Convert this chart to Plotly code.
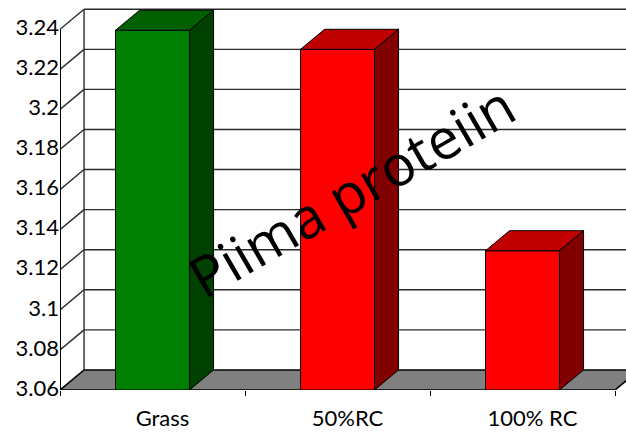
import plotly.graph_objects as go

# Milk protein by feeding group
categories = ["Grass", "50%RC", "100% RC"]
protein = [3.2395, 3.230, 3.1295]
front_colors = ["#008000", "#ff0000", "#ff0000"]
top_colors = ["#006000", "#c00000", "#c00000"]
side_colors = ["#004000", "#800000", "#800000"]

y_ticks = [3.06, 3.08, 3.10, 3.12, 3.14, 3.16, 3.18, 3.20, 3.22, 3.24]
y_tick_text = [f"{v:g}" for v in y_ticks]

# Pseudo-3D geometry (axis units)
BASE = y_ticks[0]
TOP = y_ticks[-1]
BAR_W = 0.4
DX = 0.13      # depth shift along the category axis
DY = 0.01      # depth shift along the value axis
X0, X1 = -0.5, len(categories) - 0.5

W, H = 626, 432
ML, MR, MT, MB = 60, 0, 1, 42
px_per_cat = 185.0
px_per_val = 2003.9
x_range = [X0, X0 + (W - ML - MR) / px_per_cat]
y_range = [BASE, BASE + (H - MT - MB) / px_per_val]

fig = go.Figure()

fig.add_trace(go.Bar(
    x=list(range(len(categories))),
    y=[v - BASE for v in protein],
    base=BASE,
    width=BAR_W,
    marker=dict(color=front_colors, line=dict(color="black", width=1)),
    hoverinfo="skip",
))

shapes = []
edge = dict(color="#2b2b2b", width=1.4)

def poly(pts):
    return "M " + " L ".join(f"{x},{y}" for x, y in pts) + " Z"

# floor
shapes.append(dict(
    type="path", xref="x", yref="y", layer="below",
    path=poly([(X0, BASE), (X1, BASE), (X1 + DX, BASE + DY), (X0 + DX, BASE + DY)]),
    fillcolor="#808080", line=dict(color="black", width=1.6),
))
# back-wall gridlines and left-wall diagonals
for t in y_ticks[1:]:
    shapes.append(dict(type="line", xref="x", yref="y", layer="below",
                       x0=X0 + DX, x1=X1 + DX, y0=t + DY, y1=t + DY, line=edge))
    shapes.append(dict(type="line", xref="x", yref="y", layer="below",
                       x0=X0, x1=X0 + DX, y0=t, y1=t + DY, line=edge))
# back-wall left edge
shapes.append(dict(type="line", xref="x", yref="y", layer="below",
                   x0=X0 + DX, x1=X0 + DX, y0=BASE + DY, y1=TOP + DY, line=edge))
# value axis line
shapes.append(dict(type="line", xref="x", yref="y", layer="below",
                   x0=X0, x1=X0, y0=BASE, y1=TOP, line=dict(color="black", width=2)))

# bar tops and sides
for i, v in enumerate(protein):
    xl, xr = i - BAR_W / 2, i + BAR_W / 2
    shapes.append(dict(
        type="path", xref="x", yref="y", layer="above",
        path=poly([(xl, v), (xl + DX, v + DY), (xr + DX, v + DY), (xr, v)]),
        fillcolor=top_colors[i], line=dict(color="black", width=1),
    ))
    shapes.append(dict(
        type="path", xref="x", yref="y", layer="above",
        path=poly([(xr, BASE), (xr, v), (xr + DX, v + DY), (xr + DX, BASE + DY)]),
        fillcolor=side_colors[i], line=dict(color="black", width=1),
    ))

fig.update_layout(
    width=W, height=H, autosize=False,
    margin=dict(l=ML, r=MR, t=MT, b=MB, pad=0),
    paper_bgcolor="white", plot_bgcolor="white",
    showlegend=False,
    shapes=shapes,
    xaxis=dict(
        range=x_range, showgrid=False, zeroline=False, showline=False,
        tickvals=list(range(len(categories))), ticktext=categories,
        ticks="", ticklabelshift=10, ticklabelstandoff=13,
        tickfont=dict(family="Lato", size=22, color="black"),
        minor=dict(tickvals=[X0 + k for k in range(len(categories) + 1)],
                   ticks="outside", ticklen=5, tickcolor="black", tickwidth=1),
        fixedrange=True,
    ),
    yaxis=dict(
        range=y_range, showgrid=False, zeroline=False, showline=False,
        tickvals=y_ticks, ticktext=y_tick_text, ticks="", ticklabelshift=-2,
        tickfont=dict(family="Lato", size=22, color="black"),
        fixedrange=True,
    ),
    annotations=[dict(
        text="Piima proteiin", xref="paper", yref="paper",
        x=0.514, y=0.514, showarrow=False, textangle=-30,
        font=dict(family="Open Sans", size=56, color="black"),
    )],
)

fig.write_html("out.html")
